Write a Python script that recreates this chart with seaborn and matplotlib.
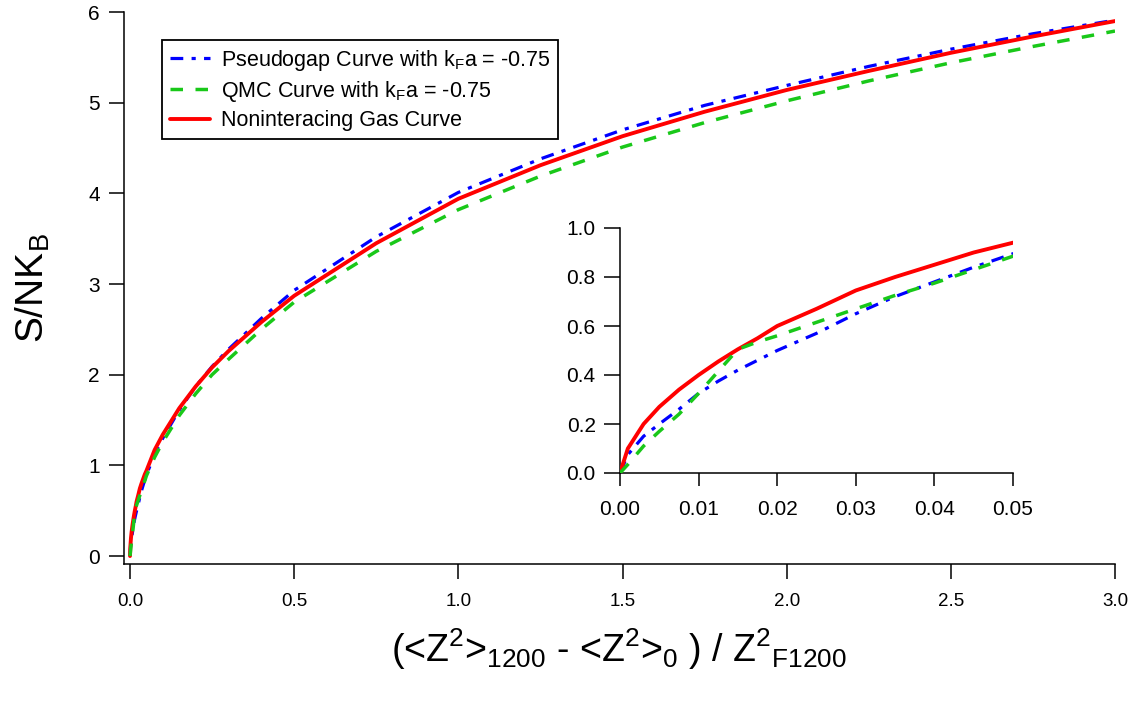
import matplotlib
matplotlib.use("Agg")
import matplotlib.pyplot as plt
import seaborn as sns
import numpy as np

# Werte (gemeinsames x-Gitter fuer alle drei Kurven)
x_vals = [0, 0.001, 0.003, 0.005, 0.0075, 0.01, 0.0125, 0.015, 0.0175, 0.02,
          0.025, 0.03, 0.035, 0.04, 0.045, 0.05,
          0.075, 0.1, 0.15, 0.2, 0.25, 0.3, 0.4, 0.5, 0.75, 1.0, 1.25, 1.5, 1.75,
          2.0, 2.25, 2.5, 2.75, 3.0]

pseudogap = [0, 0.075, 0.15, 0.20, 0.26, 0.325, 0.375, 0.42, 0.46, 0.50,
             0.57, 0.65, 0.72, 0.78, 0.84, 0.895,
             1.12, 1.30, 1.61, 1.87, 2.09, 2.28, 2.62, 2.93, 3.52, 4.01, 4.38, 4.70, 4.97,
             5.19, 5.40, 5.59, 5.76, 5.91]

qmc = [0, 0.035, 0.11, 0.17, 0.24, 0.325, 0.415, 0.505, 0.535, 0.56,
       0.615, 0.67, 0.725, 0.775, 0.83, 0.885,
       1.09, 1.26, 1.55, 1.79, 2.00, 2.17, 2.50, 2.80, 3.36, 3.82, 4.19, 4.51, 4.78,
       5.02, 5.24, 5.44, 5.62, 5.79]

nonint = [0, 0.10, 0.20, 0.27, 0.34, 0.40, 0.455, 0.505, 0.55, 0.60,
          0.67, 0.745, 0.80, 0.85, 0.90, 0.94,
          1.17, 1.34, 1.63, 1.87, 2.08, 2.26, 2.58, 2.87, 3.45, 3.94, 4.31, 4.63, 4.90,
          5.14, 5.35, 5.55, 5.73, 5.90]

labels = ["Pseudogap Curve with k$_F$a = -0.75",
          "QMC Curve with k$_F$a = -0.75",
          "Noninteracing Gas Curve"]

main_xticks = [0.0, 0.5, 1.0, 1.5, 2.0, 2.5, 3.0]
main_yticks = [0, 1, 2, 3, 4, 5, 6]
inset_xticks = [0.00, 0.01, 0.02, 0.03, 0.04, 0.05]
inset_yticks = [0.0, 0.2, 0.4, 0.6, 0.8, 1.0]

sns.set_style("ticks")
plt.rcParams['font.family'] = ['Liberation Sans', 'DejaVu Sans']
plt.rcParams['mathtext.default'] = 'regular'
plt.rcParams['text.color'] = 'black'
plt.rcParams['axes.labelcolor'] = 'black'
plt.rcParams['xtick.color'] = 'black'
plt.rcParams['ytick.color'] = 'black'

blue = '#0000ff'
green = '#19c819'
red = '#ff0000'

dashdot = (0, (4.0, 2.6, 1.3, 2.6))
dashed = (0, (3.6, 3.6))


def draw_curves(ax):
    l1 = sns.lineplot(x=x_vals, y=pseudogap, ax=ax, color=blue, lw=2.3,
                      linestyle=dashdot, zorder=3).lines[-1]
    l3 = sns.lineplot(x=x_vals, y=nonint, ax=ax, color=red, lw=2.8,
                      zorder=4).lines[-1]
    l2 = sns.lineplot(x=x_vals, y=qmc, ax=ax, color=green, lw=2.5,
                      linestyle=dashed, zorder=5).lines[-1]
    return [l1, l2, l3]


def igor_axes(ax, tick_size, ylen, xlen):
    sns.despine(ax=ax)
    for s in ['left', 'bottom']:
        ax.spines[s].set_linewidth(1.1)
        ax.spines[s].set_color('black')
    ax.tick_params(axis='y', direction='out', length=ylen, width=1.1,
                   pad=6, labelsize=tick_size[1], colors='black')
    ax.tick_params(axis='x', direction='out', length=xlen, width=1.1,
                   pad=10, labelsize=tick_size[0], colors='black')
    ax.set_facecolor('none')


fig = plt.figure(figsize=(11.39, 7.02), dpi=100)

# Hauptplot
ax = fig.add_axes([123.5 / 1139, 1 - 564 / 702, 991.5 / 1139, 552 / 702])
lines = draw_curves(ax)
ax.set_xlim(-0.0198, 3.0)
ax.set_ylim(-0.088, 6.0)
ax.set_xticks(main_xticks)
ax.set_xticklabels([f"{t:.1f}" for t in main_xticks])
ax.set_yticks(main_yticks)
igor_axes(ax, (13.5, 15), 11, 11)
ax.set_xlabel("(<Z$^{2}$>$_{1200}$ - <Z$^{2}$>$_{0}$ ) / Z$^{2}$$_{F1200}$",
              fontsize=27, labelpad=12)
ax.set_ylabel("S/NK$_B$", fontsize=28, labelpad=26)

leg = ax.legend(lines, labels, loc='upper left',
                bbox_to_anchor=(162 / 1139, 1 - 40 / 702),
                bbox_transform=fig.transFigure, borderaxespad=0,
                fontsize=15.5, handlelength=1.9, handletextpad=0.5,
                labelspacing=0.3, borderpad=0.35, fancybox=False,
                framealpha=1, edgecolor='black')
leg.get_frame().set_linewidth(1.3)

# Inset
ins = fig.add_axes([620 / 1139, 1 - 473 / 702, 393 / 1139, 245 / 702])
draw_curves(ins)
ins.set_xlim(0, 0.05)
ins.set_ylim(0, 1.0)
ins.set_xticks(inset_xticks)
ins.set_xticklabels([f"{t:.2f}" for t in inset_xticks])
ins.set_yticks(inset_yticks)
ins.set_yticklabels([f"{t:.1f}" for t in inset_yticks])
igor_axes(ins, (15, 15), 11.5, 9.6)
ins.set_xlabel("")
ins.set_ylabel("")

fig.savefig("out.png", dpi=100)
